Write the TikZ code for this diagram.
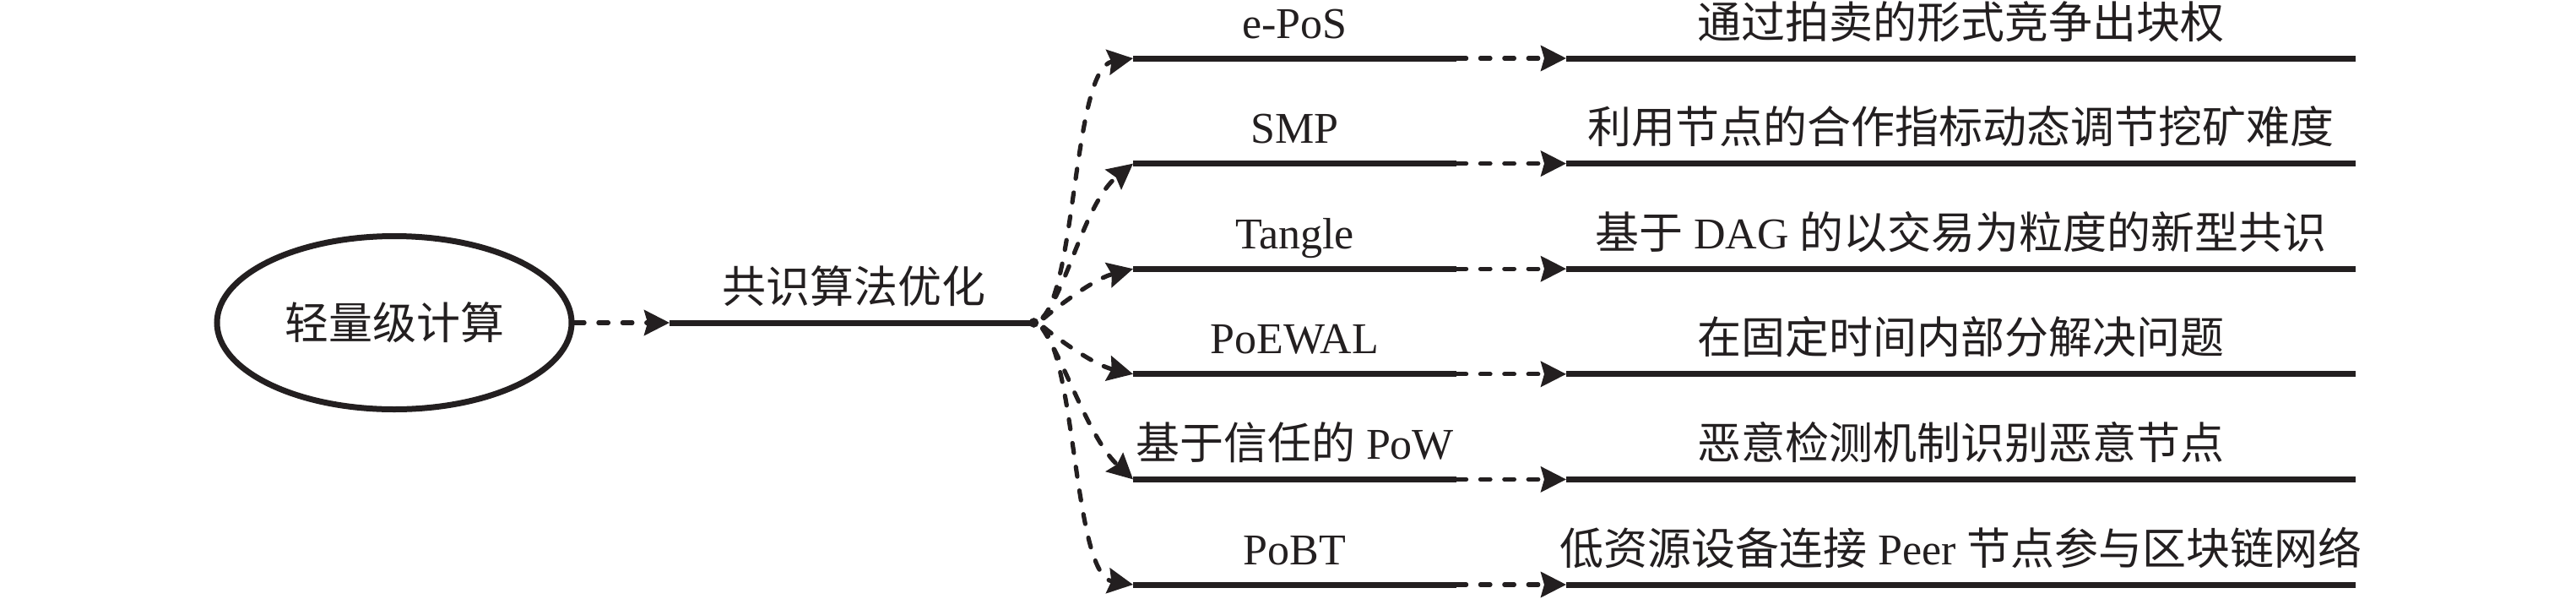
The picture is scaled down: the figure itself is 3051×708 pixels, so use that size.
\documentclass[tikz,border=0pt]{standalone}
\usepackage{fontspec}
\setmainfont{Liberation Serif}
\newfontfamily\cjk{Noto Sans CJK SC}
\usetikzlibrary{arrows.meta,shapes.geometric}
\newcommand\zh[1]{{\cjk #1}}
\definecolor{ink}{RGB}{35,31,32}
\begin{document}
\begin{tikzpicture}[x=0.25pt,y=-0.25pt,
  solidline/.style={line width=1.75pt, draw=ink},
  dasharrow/.style={draw=ink, line width=1.3pt, dash pattern=on 2.9pt off 4.2pt, line cap=round,
     -{Stealth[length=7.5pt,width=7.5pt,inset=1pt]}},
  lab/.style={anchor=base, yshift=6pt, font=\fontsize{13pt}{15pt}\selectfont, inner sep=0pt, text=ink},
  root/.style={ellipse, draw=ink, line width=1.75pt, minimum width=105pt, minimum height=51.25pt,
     inner sep=0pt, font=\fontsize{13pt}{15pt}\selectfont\cjk, text=ink}]
\useasboundingbox (0,0) rectangle (3051,708);

\node[root] (E) at (467,382) {轻量级计算};

\coordinate (M0) at (793,382);
\coordinate (F) at (1230,382);

\foreach \n/\y in {1/69,2/193.6,3/318.2,4/442.8,5/567.4,6/692}{
  \coordinate (L\n s) at (1342,\y);
  \coordinate (L\n e) at (1725,\y);
  \coordinate (R\n s) at (1855,\y);
  \coordinate (R\n e) at (2790,\y);
}

\draw[dasharrow] (E.east) -- (M0);
\draw[solidline, -{Circle[length=2.8pt]}] (M0) -- node[lab] (tmain) {\zh{共识算法优化}} (F);

% fan-out curves
\draw[dasharrow, shorten <=2pt] (F) .. controls +(45,-52) and +(-70,11) .. (L1s);
\draw[dasharrow, shorten <=2pt] (F) .. controls +(35,-42) and +(-57,46) .. (L2s);
\draw[dasharrow, shorten <=2pt] (F) .. controls +(20,-17) and +(-47,12) .. (L3s);
\draw[dasharrow, shorten <=2pt] (F) .. controls +(20,17) and +(-47,-11) .. (L4s);
\draw[dasharrow, shorten <=2pt] (F) .. controls +(32,48) and +(-52,-48) .. (L5s);
\draw[dasharrow, shorten <=2pt] (F) .. controls +(45,52) and +(-70,-11) .. (L6s);

% left labelled lines
\draw[solidline] (L1s) -- node[lab] (a1) {e-PoS} (L1e);
\draw[solidline] (L2s) -- node[lab] (a2) {SMP} (L2e);
\draw[solidline] (L3s) -- node[lab] (a3) {Tangle} (L3e);
\draw[solidline] (L4s) -- node[lab] (a4) {PoEWAL} (L4e);
\draw[solidline] (L5s) -- node[lab] (a5) {\zh{基于信任的} PoW} (L5e);
\draw[solidline] (L6s) -- node[lab] (a6) {PoBT} (L6e);

% connecting dashed arrows
\foreach \n in {1,...,6}{
  \draw[dasharrow] (L\n e) -- (R\n s);
}

% right labelled lines
\draw[solidline] (R1s) -- node[lab] (b1) {\zh{通过拍卖的形式竞争出块权}} (R1e);
\draw[solidline] (R2s) -- node[lab] (b2) {\zh{利用节点的合作指标动态调节挖矿难度}} (R2e);
\draw[solidline] (R3s) -- node[lab] (b3) {\zh{基于} DAG \zh{的以交易为粒度的新型共识}} (R3e);
\draw[solidline] (R4s) -- node[lab] (b4) {\zh{在固定时间内部分解决问题}} (R4e);
\draw[solidline] (R5s) -- node[lab] (b5) {\zh{恶意检测机制识别恶意节点}} (R5e);
\draw[solidline] (R6s) -- node[lab] (b6) {\zh{低资源设备连接} Peer \zh{节点参与区块链网络}} (R6e);
\end{tikzpicture}
\end{document}
